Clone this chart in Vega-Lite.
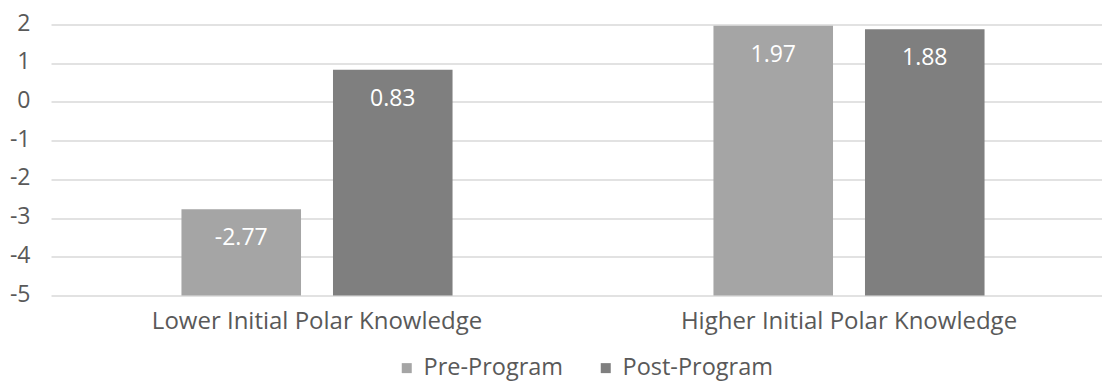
{
  "$schema": "https://vega.github.io/schema/vega-lite/v6.json",
  "autosize": "none",
  "width": 1051,
  "height": 271,
  "padding": {"left": 51, "top": 24.5, "right": 0, "bottom": 87.5},
  "background": "white",
  "config": {
    "view": {"stroke": null},
    "font": "Open Sans"
  },
  "data": {
    "values": [
      {"group": "Lower Initial Polar Knowledge", "series": "Pre-Program", "value": -2.77},
      {"group": "Lower Initial Polar Knowledge", "series": "Post-Program", "value": 0.83},
      {"group": "Higher Initial Polar Knowledge", "series": "Pre-Program", "value": 1.97},
      {"group": "Higher Initial Polar Knowledge", "series": "Post-Program", "value": 1.88}
    ]
  },
  "encoding": {
    "x": {
      "field": "group", "type": "nominal", "sort": null, "title": null,
      "scale": {"range": [0, 1064], "paddingInner": 0, "paddingOuter": 0},
      "axis": {"labelAngle": 0, "ticks": false, "domain": false, "labelFontSize": 24, "labelColor": "#595959", "labelPadding": 32.5, "labelBaseline": "alphabetic", "labelFont": "Open Sans", "labelLimit": 0}
    },
    "xOffset": {
      "field": "series", "type": "nominal", "sort": ["Pre-Program", "Post-Program"],
      "scale": {"paddingInner": 0.211, "paddingOuter": 0.861}
    },
    "y": {
      "field": "value", "type": "quantitative", "title": null,
      "scale": {"domain": [-5, 2], "nice": false, "zero": false},
      "axis": {"values": [-5, -4, -3, -2, -1, 0, 1, 2], "labelExpr": "toString(datum.value)", "ticks": false, "domain": false, "gridColor": "#D9D9D9", "gridWidth": 1.3, "labelFontSize": 23, "labelColor": "#595959", "labelPadding": 21, "labelFont": "Open Sans", "labelBaseline": "middle", "labelOffset": -1.5}
    }
  },
  "layer": [
    {
      "mark": {"type": "bar"},
      "encoding": {
        "y2": {"datum": -5},
        "color": {
          "field": "series", "type": "nominal", "sort": ["Pre-Program", "Post-Program"],
          "scale": {"domain": ["Pre-Program", "Post-Program"], "range": ["#A5A5A5", "#7F7F7F"]},
          "legend": {"title": null, "orient": "none", "legendX": 344, "legendY": 331.5, "direction": "horizontal", "symbolType": "square", "symbolSize": 100, "symbolStrokeWidth": 0, "labelFontSize": 23.5, "labelColor": "#595959", "labelFont": "Open Sans", "columnPadding": 30, "symbolOffset": 0, "labelOffset": 5, "labelLimit": 0}
        }
      }
    },
    {
      "mark": {"type": "text", "color": "white", "fontSize": 23, "baseline": "middle", "dy": 29, "font": "Open Sans"},
      "encoding": {
        "text": {"field": "value", "type": "nominal"}
      }
    }
  ]
}
